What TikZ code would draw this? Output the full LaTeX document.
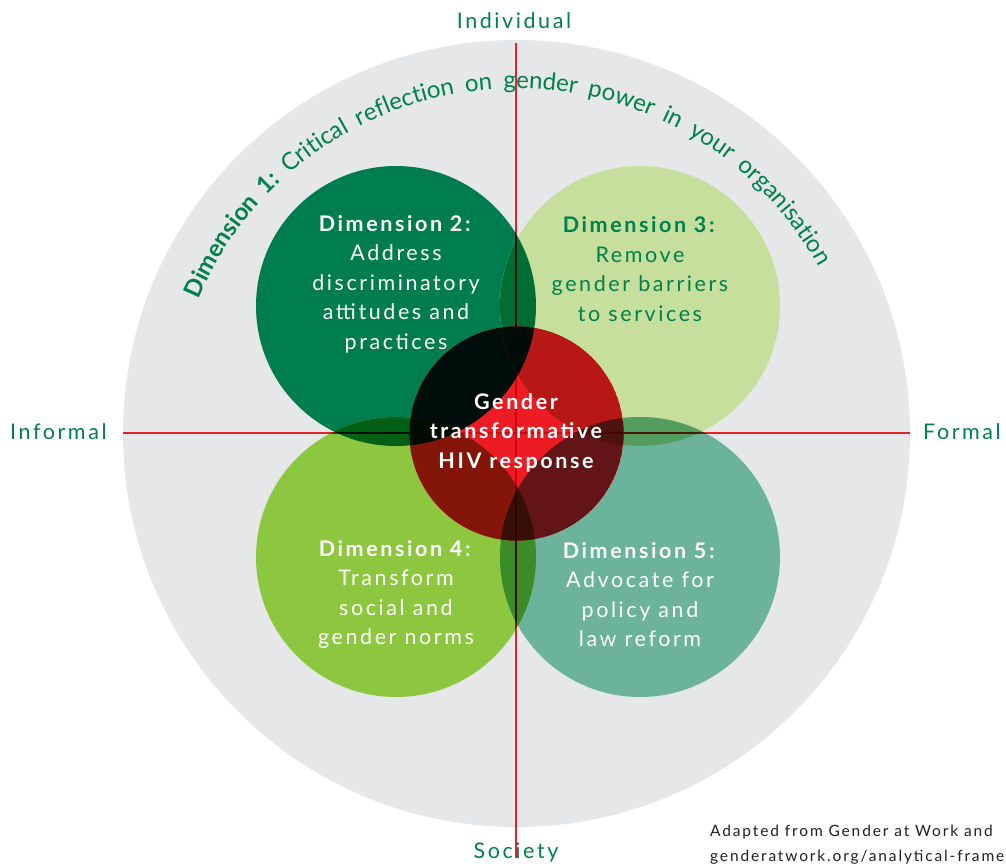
\documentclass[tikz,border=0pt]{standalone}
\usepackage{fontspec}
\setmainfont{Lato}[LetterSpace=12]
\newfontfamily\arcfont{Lato}[LetterSpace=20]
\usetikzlibrary{decorations.text}
\definecolor{bggray}{HTML}{E6E7E8}
\definecolor{dtwo}{HTML}{007D4F}
\definecolor{dthree}{HTML}{C6DF9D}
\definecolor{dfour}{HTML}{8DC63F}
\definecolor{dfive}{HTML}{6BB39A}
\definecolor{hivred}{HTML}{ED1C24}
\definecolor{axisred}{HTML}{E5222A}
\definecolor{tgreen}{HTML}{00804B}
\definecolor{footgray}{HTML}{231F20}
% overlaps
\definecolor{ctwothree}{HTML}{006D31}
\definecolor{ctwofour}{HTML}{006114}
\definecolor{cthreefive}{HTML}{539D5F}
\definecolor{cfourfive}{HTML}{3B8B26}
\definecolor{rtwo}{HTML}{000E0B}
\definecolor{rthree}{HTML}{B71816}
\definecolor{rfour}{HTML}{831609}
\definecolor{rfive}{HTML}{631416}
\definecolor{rtwothree}{HTML}{000C07}
\definecolor{rtwofour}{HTML}{000B02}
\definecolor{rthreefive}{HTML}{4D110E}
\definecolor{rfourfive}{HTML}{370F04}
% axis line seen through regions
\definecolor{ltwo}{HTML}{00110D}
\definecolor{lthree}{HTML}{B11E1A}
\definecolor{lfour}{HTML}{7E1B0A}
\definecolor{lfive}{HTML}{60171A}
\definecolor{ltwothree}{HTML}{000F08}
\definecolor{ltwofour}{HTML}{000F02}
\definecolor{lthreefive}{HTML}{4B1510}
\definecolor{lfourfive}{HTML}{351306}
\definecolor{lrthree}{HTML}{A40304}
\definecolor{lrfour}{HTML}{750301}
\definecolor{lrfive}{HTML}{590304}
\definecolor{lrthreefive}{HTML}{450202}
\definecolor{lrfourfive}{HTML}{310200}
\definecolor{ldiamond}{HTML}{D50406}
\tikzset{
  axisline/.style={line width=2pt},
  circtext/.style={align=center, font=\fontsize{21.5}{29.5}\selectfont, inner sep=0pt},
  axislabel/.style={text=tgreen, font=\fontsize{21.5}{26}\selectfont, inner sep=0pt}
}
\newcommand\drawaxeslines[1]{\path[axisline, draw=#1] (top) -- (bot); \path[axisline, draw=#1] (lft) -- (rgt);}
\begin{document}
\begin{tikzpicture}[x=1pt,y=-1pt]
\useasboundingbox (0,0) rectangle (1006,865);
\coordinate (cc) at (516.5,433.5);
\coordinate (c2) at (396,306);
\coordinate (c3) at (640,306);
\coordinate (c4) at (396,557);
\coordinate (c5) at (640,557);
\coordinate (top) at (516,43);
\coordinate (bot) at (516,858);
\coordinate (lft) at (123,433);
\coordinate (rgt) at (910,433);
% background disc
\fill[bggray] (cc) circle[radius=393.5];
% axes under the circles
\drawaxeslines{axisred}
% four dimension circles
\fill[dtwo] (c2) circle[radius=140];
\fill[dthree] (c3) circle[radius=140];
\fill[dfour] (c4) circle[radius=140];
\fill[dfive] (c5) circle[radius=140];
\begin{scope}\clip (c2) circle[radius=140]; \drawaxeslines{ltwo}\end{scope}
\begin{scope}\clip (c3) circle[radius=140]; \drawaxeslines{lthree}\end{scope}
\begin{scope}\clip (c4) circle[radius=140]; \drawaxeslines{lfour}\end{scope}
\begin{scope}\clip (c5) circle[radius=140]; \drawaxeslines{lfive}\end{scope}
% pairwise overlaps
\begin{scope}\clip (c2) circle[radius=140];
  \fill[ctwothree] (c3) circle[radius=140];
  \clip (c3) circle[radius=140]; \drawaxeslines{ltwothree}\end{scope}
\begin{scope}\clip (c2) circle[radius=140];
  \fill[ctwofour] (c4) circle[radius=140];
  \clip (c4) circle[radius=140]; \drawaxeslines{ltwofour}\end{scope}
\begin{scope}\clip (c3) circle[radius=140];
  \fill[cthreefive] (c5) circle[radius=140];
  \clip (c5) circle[radius=140]; \drawaxeslines{lthreefive}\end{scope}
\begin{scope}\clip (c4) circle[radius=140];
  \fill[cfourfive] (c5) circle[radius=140];
  \clip (c5) circle[radius=140]; \drawaxeslines{lfourfive}\end{scope}
% centre circle
\fill[hivred] (cc) circle[radius=107];
\begin{scope}
  \clip (cc) circle[radius=107];
  \drawaxeslines{ldiamond}
  \begin{scope}\clip (c2) circle[radius=140]; \fill[rtwo] (cc) circle[radius=107]; \end{scope}
  \begin{scope}\clip (c3) circle[radius=140]; \fill[rthree] (cc) circle[radius=107]; \drawaxeslines{lrthree}\end{scope}
  \begin{scope}\clip (c4) circle[radius=140]; \fill[rfour] (cc) circle[radius=107]; \drawaxeslines{lrfour}\end{scope}
  \begin{scope}\clip (c5) circle[radius=140]; \fill[rfive] (cc) circle[radius=107]; \drawaxeslines{lrfive}\end{scope}
  \begin{scope}\clip (c2) circle[radius=140]; \clip (c3) circle[radius=140]; \fill[rtwothree] (cc) circle[radius=107]; \end{scope}
  \begin{scope}\clip (c2) circle[radius=140]; \clip (c4) circle[radius=140]; \fill[rtwofour] (cc) circle[radius=107]; \end{scope}
  \begin{scope}\clip (c3) circle[radius=140]; \clip (c5) circle[radius=140]; \fill[rthreefive] (cc) circle[radius=107]; \drawaxeslines{lrthreefive}\end{scope}
  \begin{scope}\clip (c4) circle[radius=140]; \clip (c5) circle[radius=140]; \fill[rfourfive] (cc) circle[radius=107]; \drawaxeslines{lrfourfive}\end{scope}
\end{scope}
% arc text
\path[decorate, decoration={text along path, text align=center,
  text={|\fontsize{24}{28}\selectfont\arcfont\bfseries\color{tgreen}|Dimension 1:|\fontsize{24}{28}\selectfont\arcfont\mdseries\color{tgreen}| Critical reflection on gender power in your organisation}}]
  ([shift={(cc)}]-174:345) arc[start angle=-174, end angle=-12, radius=345];
% axis labels
\node[axislabel, anchor=center] (indiv) at (514,21) {Individual};
\node[axislabel, anchor=west] (inform) at (10,432) {Informal};
\node[axislabel, anchor=west] (form) at (923,432) {Formal};
\node[axislabel, anchor=center] (soc) at (516,852) {Society};
% circle texts
\node[circtext, text=white] (t2) at (396,284) {\textbf{Dimension 2:}\\Address\\discriminatory\\attitudes and\\practices};
\node[circtext, text=tgreen] (t3) at (640,269) {\textbf{Dimension 3:}\\Remove\\gender barriers\\to services};
\node[circtext, text=white] (t4) at (396,594.5) {\textbf{Dimension 4:}\\Transform\\social and\\gender norms};
\node[circtext, text=white] (t5) at (640,594.5) {\textbf{Dimension 5:}\\Advocate for\\policy and\\law reform};
\node[circtext, text=white, font=\fontsize{21.5}{29.5}\selectfont\bfseries] (tc) at (516,432.5) {Gender\\transformative\\HIV response};
% footer
\node[anchor=west, align=left, text=footgray, font=\fontsize{15.5}{25}\selectfont, inner sep=0pt] (foot) at (710,845) {Adapted from Gender at Work and\\genderatwork.org/analytical-framework};
\end{tikzpicture}
\end{document}
